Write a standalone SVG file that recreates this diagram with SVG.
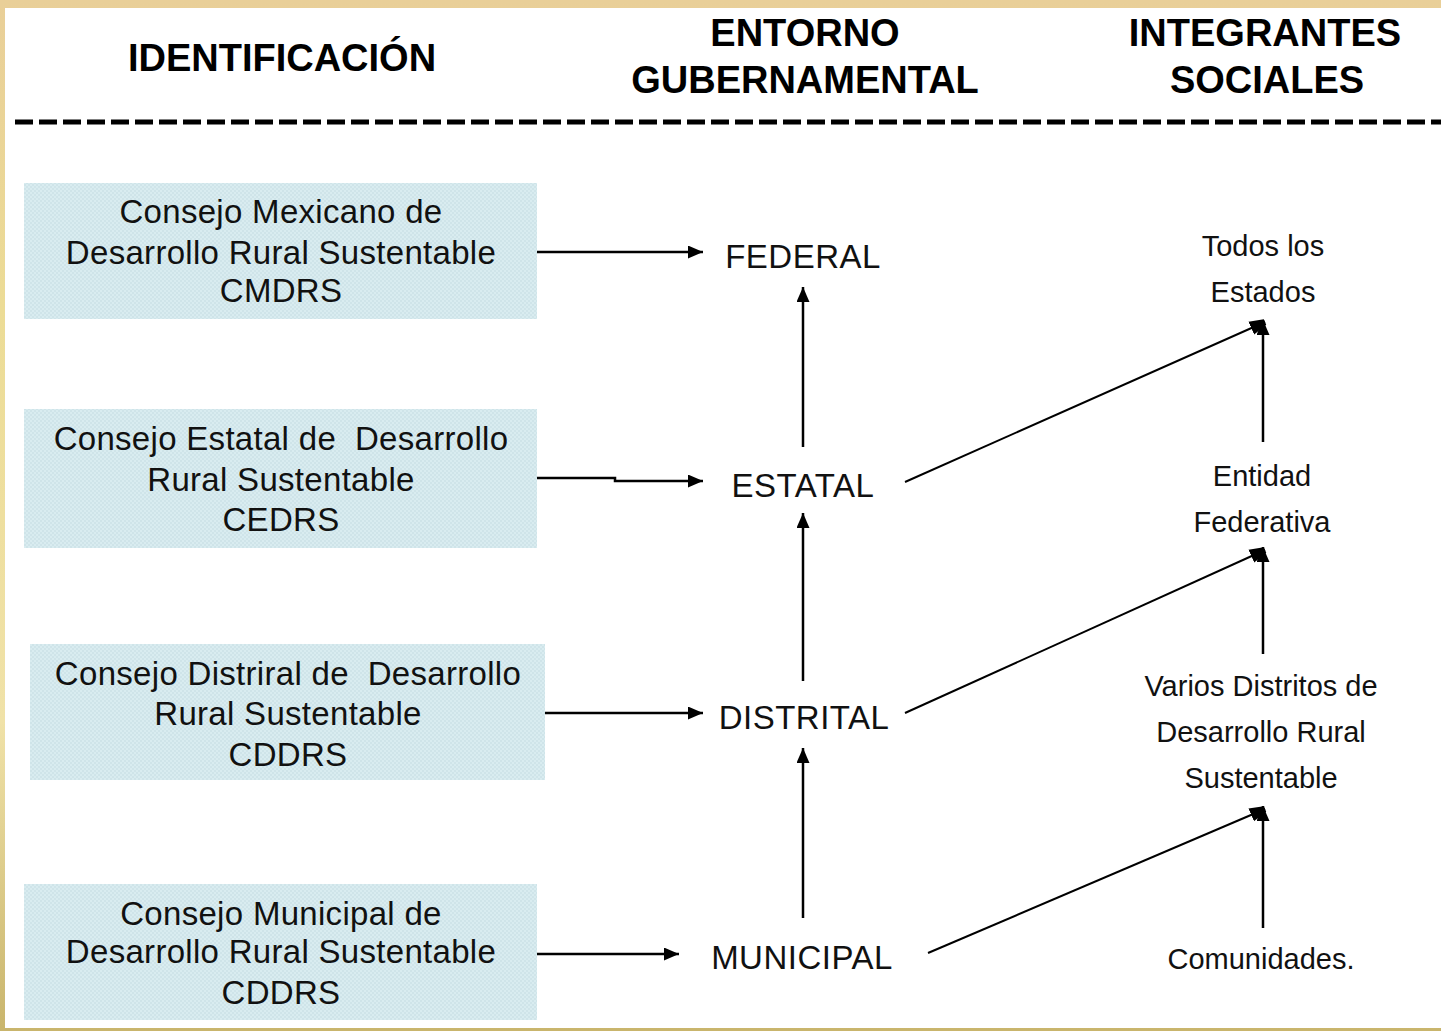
<svg xmlns="http://www.w3.org/2000/svg" width="1441" height="1031" viewBox="0 0 1441 1031">
<defs>
<linearGradient id="frame" x1="0" y1="0" x2="0" y2="1">
<stop offset="0" stop-color="#e9cf98"/>
<stop offset="0.3" stop-color="#ecdc96"/>
<stop offset="0.7" stop-color="#f0e2a8"/>
<stop offset="1" stop-color="#c9b56c"/>
</linearGradient>
<pattern id="hatch" width="4" height="4" patternUnits="userSpaceOnUse">
<rect width="4" height="4" fill="#d9ecf0"/>
<rect width="2" height="2" fill="#cfe4e9"/>
<rect x="2" y="2" width="2" height="2" fill="#cfe4e9"/>
</pattern>
<marker id="ah" markerUnits="userSpaceOnUse" markerWidth="16" markerHeight="14" refX="15" refY="6.5" orient="auto">
<path d="M0,0 L15,6.5 L0,13 z" fill="#000"/>
</marker>
<marker id="ahr" markerUnits="userSpaceOnUse" markerWidth="18" markerHeight="18" refX="15" refY="8" orient="auto">
<path d="M0,1 L15,5 L15,11 L0,15 z" fill="#000"/>
</marker>
<style>
.hdr{font-family:"Liberation Sans",Arial,sans-serif;font-weight:bold;font-size:38px;fill:#000;text-anchor:middle}
.box{fill:url(#hatch)}
.bt{font-family:"Liberation Sans",Arial,sans-serif;font-size:33px;fill:#111;text-anchor:middle;white-space:pre;letter-spacing:0.3px}
.lvl{font-family:"Liberation Sans",Arial,sans-serif;font-size:33px;fill:#111;text-anchor:middle;letter-spacing:0.5px}
.soc{font-family:"Liberation Sans",Arial,sans-serif;font-size:29px;fill:#111;text-anchor:middle}
.ln{stroke:#000;stroke-width:2.5;fill:none}
.dg{stroke:#000;stroke-width:2;fill:none}
</style>
</defs>
<rect width="1441" height="1031" fill="url(#frame)"/>
<rect x="5" y="8" width="1436" height="1020" fill="#ffffff"/>

<g id="headers">
<text class="hdr" x="282" y="71">IDENTIFICACIÓN</text>
<text class="hdr" x="805" y="46">ENTORNO</text>
<text class="hdr" x="805" y="93">GUBERNAMENTAL</text>
<text class="hdr" x="1265" y="46">INTEGRANTES</text>
<text class="hdr" x="1267" y="93">SOCIALES</text>
<line x1="15" y1="122" x2="1441" y2="122" stroke="#000" stroke-width="5" stroke-dasharray="18 6"/>
</g>

<g id="cmdrs">
<rect class="box" x="24" y="183" width="513" height="136"/>
<text class="bt" x="281" y="223">Consejo Mexicano de</text>
<text class="bt" x="281" y="264">Desarrollo Rural Sustentable</text>
<text class="bt" x="281" y="302">CMDRS</text>
</g>
<g id="cedrs">
<rect class="box" x="24" y="409" width="513" height="139"/>
<text class="bt" x="281" y="450" xml:space="preserve">Consejo Estatal de  Desarrollo</text>
<text class="bt" x="281" y="491">Rural Sustentable</text>
<text class="bt" x="281" y="531">CEDRS</text>
</g>
<g id="cddrs-distrital">
<rect class="box" x="30" y="644" width="515" height="136"/>
<text class="bt" x="288" y="685" xml:space="preserve">Consejo Distriral de  Desarrollo</text>
<text class="bt" x="288" y="725">Rural Sustentable</text>
<text class="bt" x="288" y="766">CDDRS</text>
</g>
<g id="cddrs-municipal">
<rect class="box" x="24" y="884" width="513" height="136"/>
<text class="bt" x="281" y="925">Consejo Municipal de</text>
<text class="bt" x="281" y="963">Desarrollo Rural Sustentable</text>
<text class="bt" x="281" y="1004">CDDRS</text>
</g>

<g id="federal"><text class="lvl" x="803" y="268">FEDERAL</text></g>
<g id="estatal"><text class="lvl" x="803" y="497">ESTATAL</text></g>
<g id="distrital"><text class="lvl" x="804" y="729">DISTRITAL</text></g>
<g id="municipal"><text class="lvl" x="802" y="969">MUNICIPAL</text></g>

<g id="todos"><text class="soc" x="1263" y="256">Todos los</text><text class="soc" x="1263" y="302">Estados</text></g>
<g id="entidad"><text class="soc" x="1262" y="486">Entidad</text><text class="soc" x="1262" y="532">Federativa</text></g>
<g id="varios"><text class="soc" x="1261" y="696">Varios Distritos de</text><text class="soc" x="1261" y="742">Desarrollo Rural</text><text class="soc" x="1261" y="788">Sustentable</text></g>
<g id="comunidades"><text class="soc" x="1261" y="969">Comunidades.</text></g>

<g id="connectors">
<line class="ln" x1="537" y1="252" x2="703" y2="252" marker-end="url(#ah)"/>
<polyline class="ln" points="537,478 615,478 615,481 703,481" marker-end="url(#ah)"/>
<line class="ln" x1="545" y1="713" x2="703" y2="713" marker-end="url(#ah)"/>
<line class="ln" x1="537" y1="954" x2="679" y2="954" marker-end="url(#ah)"/>
<line class="ln" x1="803" y1="447" x2="803" y2="287" marker-end="url(#ah)"/>
<line class="ln" x1="803" y1="681" x2="803" y2="513" marker-end="url(#ah)"/>
<line class="ln" x1="803" y1="918" x2="803" y2="748" marker-end="url(#ah)"/>
<line class="dg" x1="905" y1="482" x2="1265" y2="322" marker-end="url(#ahr)"/>
<line class="ln" x1="1263" y1="442" x2="1263" y2="320" marker-end="url(#ah)"/>
<line class="dg" x1="905" y1="713" x2="1265" y2="550" stroke-width="3" marker-end="url(#ahr)"/>
<line class="ln" x1="1263" y1="654" x2="1263" y2="547" marker-end="url(#ah)"/>
<line class="dg" x1="928" y1="953" x2="1265" y2="809" marker-end="url(#ahr)"/>
<line class="ln" x1="1263" y1="928" x2="1263" y2="806" marker-end="url(#ah)"/>
</g>
</svg>
